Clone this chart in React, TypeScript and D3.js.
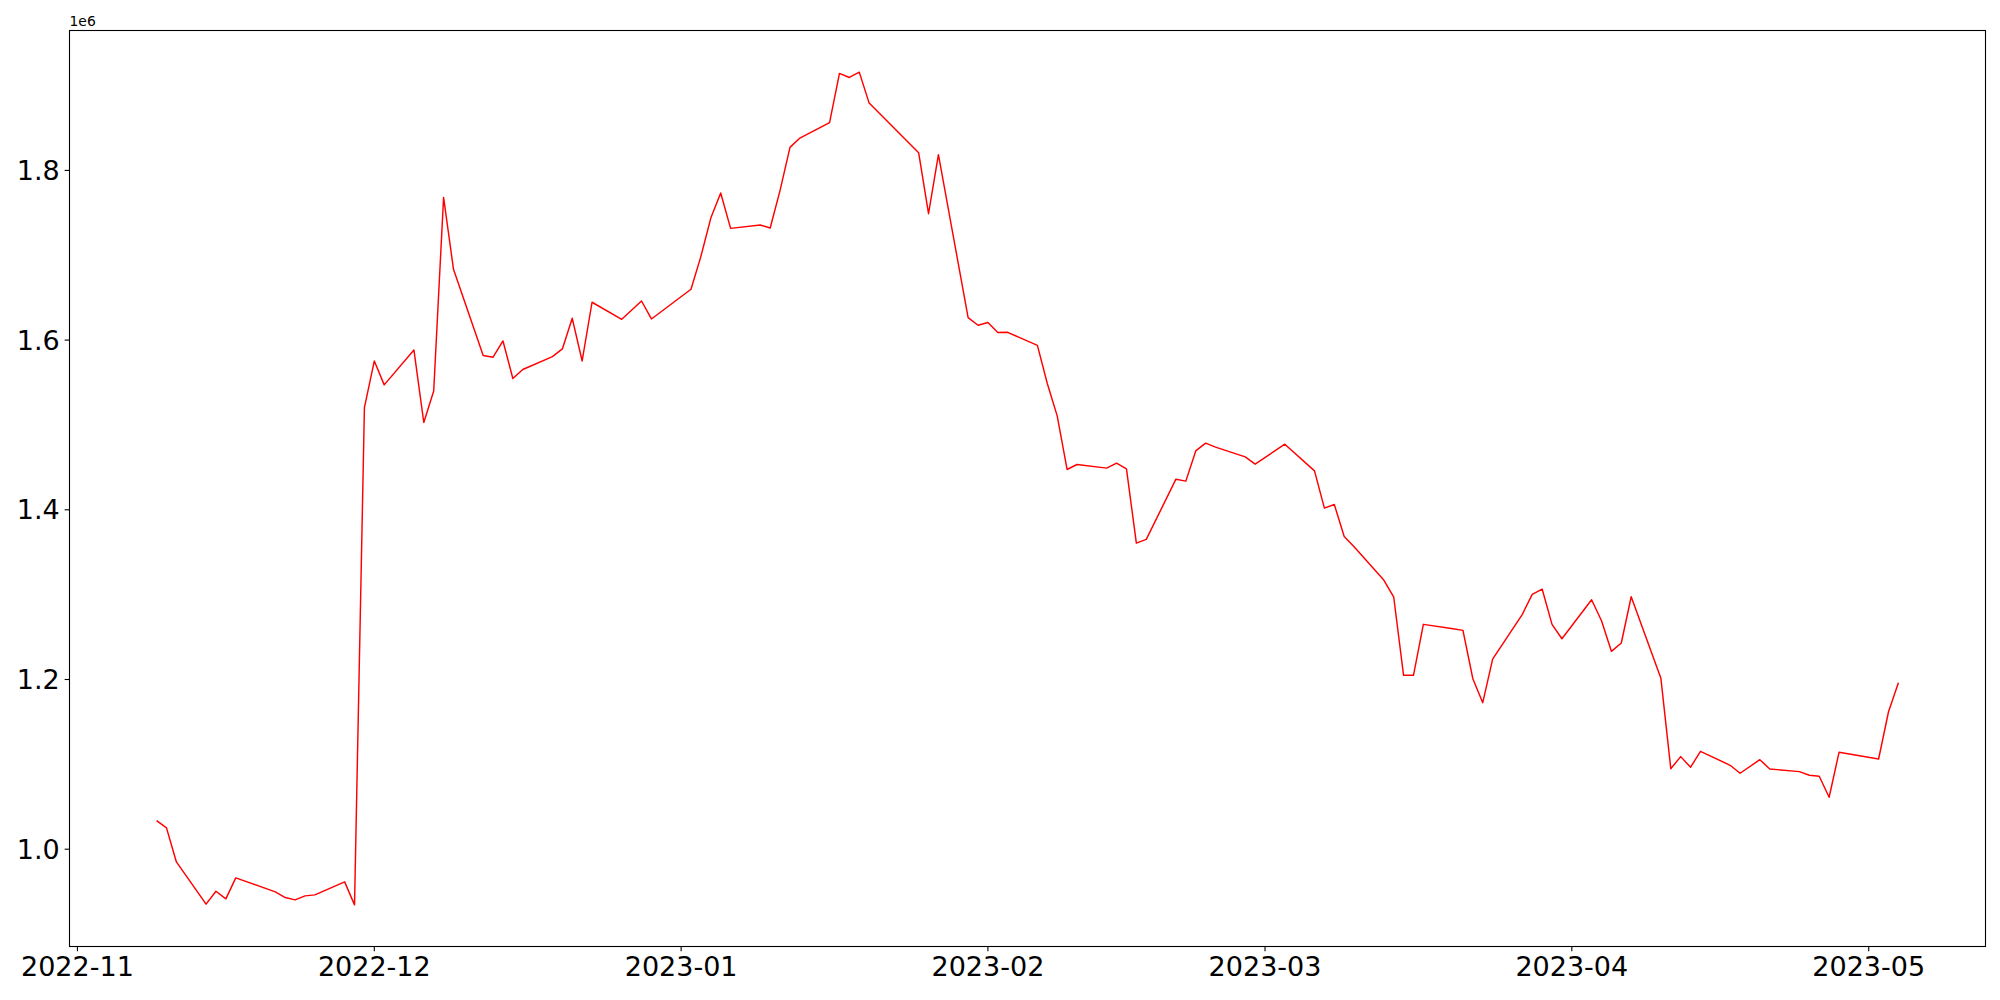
import React from "react";
import * as d3 from "d3";

const dates: string[] = [
  "2022-11-09","2022-11-10","2022-11-11","2022-11-14","2022-11-15","2022-11-16","2022-11-17",
  "2022-11-21","2022-11-22","2022-11-23","2022-11-24","2022-11-25","2022-11-28","2022-11-29","2022-11-30",
  "2022-12-01","2022-12-02","2022-12-05","2022-12-06","2022-12-07","2022-12-08","2022-12-09",
  "2022-12-12","2022-12-13","2022-12-14","2022-12-15","2022-12-16","2022-12-19","2022-12-20","2022-12-21",
  "2022-12-22","2022-12-23","2022-12-26","2022-12-28","2022-12-29",
  "2023-01-02","2023-01-03","2023-01-04","2023-01-05","2023-01-06","2023-01-09","2023-01-10","2023-01-11",
  "2023-01-12","2023-01-13","2023-01-16","2023-01-17","2023-01-18","2023-01-19","2023-01-20",
  "2023-01-25","2023-01-26","2023-01-27","2023-01-30","2023-01-31",
  "2023-02-01","2023-02-02","2023-02-03","2023-02-06","2023-02-07","2023-02-08","2023-02-09","2023-02-10",
  "2023-02-13","2023-02-14","2023-02-15","2023-02-16","2023-02-17","2023-02-20","2023-02-21","2023-02-22",
  "2023-02-23","2023-02-24","2023-02-27","2023-02-28",
  "2023-03-03","2023-03-06","2023-03-07","2023-03-08","2023-03-09","2023-03-10","2023-03-13","2023-03-14",
  "2023-03-15","2023-03-16","2023-03-17","2023-03-20","2023-03-21","2023-03-22","2023-03-23","2023-03-24",
  "2023-03-27","2023-03-28","2023-03-29","2023-03-30","2023-03-31",
  "2023-04-03","2023-04-04","2023-04-05","2023-04-06","2023-04-07","2023-04-10","2023-04-11","2023-04-12",
  "2023-04-13","2023-04-14","2023-04-17","2023-04-18","2023-04-20","2023-04-21","2023-04-24","2023-04-25",
  "2023-04-26","2023-04-27","2023-04-28","2023-05-02","2023-05-03","2023-05-04",
];

const values: number[] = [
  1033700, 1025100, 985000, 935200, 950500, 941500, 966200,
  949700, 943000, 940300, 945000, 946200, 961500, 934400, 1520500,
  1575400, 1547200, 1588400, 1502900, 1540100, 1768200, 1683400,
  1581800, 1579800, 1599000, 1554700, 1565300, 1580600, 1589600, 1625700,
  1575400, 1644600, 1624500, 1646100, 1624900,
  1659900, 1698700, 1743800, 1773300, 1731700, 1735600, 1732100, 1776500,
  1827100, 1838100, 1856200, 1914300, 1909500, 1915800, 1879300,
  1820900, 1749000, 1818500, 1626500, 1617500,
  1620700, 1608900, 1609200, 1593700, 1548800, 1510700, 1447500, 1453400,
  1449100, 1455000, 1448200, 1360700, 1365100, 1436100, 1433800, 1469400,
  1478500, 1473800, 1462400, 1453800,
  1477300, 1445900, 1402000, 1406300, 1368600, 1356400, 1317200, 1297500,
  1204900, 1204900, 1265000, 1259800, 1257900, 1200900, 1172700, 1224100,
  1276800, 1300300, 1306600, 1265000, 1248000,
  1294000, 1269200, 1233200, 1243000, 1297500, 1201400, 1094900, 1109100,
  1096600, 1115400, 1098900, 1089500, 1105500, 1094600, 1091400, 1087100,
  1086000, 1061200, 1114200, 1106300, 1162000, 1196200,
];

const yTicks: number[] = [1.0e6, 1.2e6, 1.4e6, 1.6e6, 1.8e6];
const xTickLabels: string[] = ["2022-11", "2022-12", "2023-01", "2023-02", "2023-03", "2023-04", "2023-05"];

const W = 2000;
const H = 1000;
const L = 69.5, R = 1985.5, T = 30.5, B = 946.5;
const FONT = "DejaVu Sans, sans-serif";

export default function App() {
  const parse = d3.utcParse("%Y-%m-%d");
  const parseMonth = d3.utcParse("%Y-%m");
  const pts = dates.map((d, i) => ({ d: parse(d) as Date, v: values[i] }));

  const [d0, d1] = d3.extent(pts, (p) => p.d.getTime()) as [number, number];
  const xm = (d1 - d0) * 0.05;
  const x = d3.scaleUtc().domain([new Date(d0 - xm), new Date(d1 + xm)]).range([L, R]);

  const [v0, v1] = d3.extent(values) as [number, number];
  const ym = (v1 - v0) * 0.05;
  const y = d3.scaleLinear().domain([v0 - ym, v1 + ym]).range([B, T]);

  const line = d3
    .line<{ d: Date; v: number }>()
    .x((p) => x(p.d))
    .y((p) => y(p.v));

  const tickLen = 4.86;
  const pad = 4.86;
  const fs = 27;

  return (
    <svg
      width={W}
      height={H}
      style={{ position: "absolute", left: 0, top: 0, background: "#fff" }}
      xmlns="http://www.w3.org/2000/svg"
    >
      <rect x={0} y={0} width={W} height={H} fill="#fff" />
      <path d={line(pts) || ""} fill="none" stroke="#ff0000" strokeWidth={1.45} strokeLinejoin="round" strokeLinecap="butt" />
      <rect x={L} y={T} width={R - L} height={B - T} fill="none" stroke="#000" strokeWidth={1.1} />
      {yTicks.map((t) => (
        <g key={"y" + t}>
          <line x1={L - tickLen} x2={L} y1={y(t)} y2={y(t)} stroke="#000" strokeWidth={1.1} />
          <text
            x={L - tickLen - pad}
            y={y(t)}
            textAnchor="end"
            dominantBaseline="central"
            fontFamily={FONT}
            fontSize={fs}
            fill="#000"
          >
            {(t / 1e6).toFixed(1)}
          </text>
        </g>
      ))}
      {xTickLabels.map((lab) => {
        const xx = x(parseMonth(lab) as Date);
        return (
          <g key={lab}>
            <line x1={xx} x2={xx} y1={B} y2={B + tickLen} stroke="#000" strokeWidth={1.1} />
            <text
              x={xx}
              y={B + tickLen + pad}
              textAnchor="middle"
              dominantBaseline="hanging"
              fontFamily={FONT}
              fontSize={fs}
              fill="#000"
            >
              {lab}
            </text>
          </g>
        );
      })}
      <text x={L} y={26} fontFamily={FONT} fontSize={13.9} fill="#000">
        1e6
      </text>
    </svg>
  );
}
